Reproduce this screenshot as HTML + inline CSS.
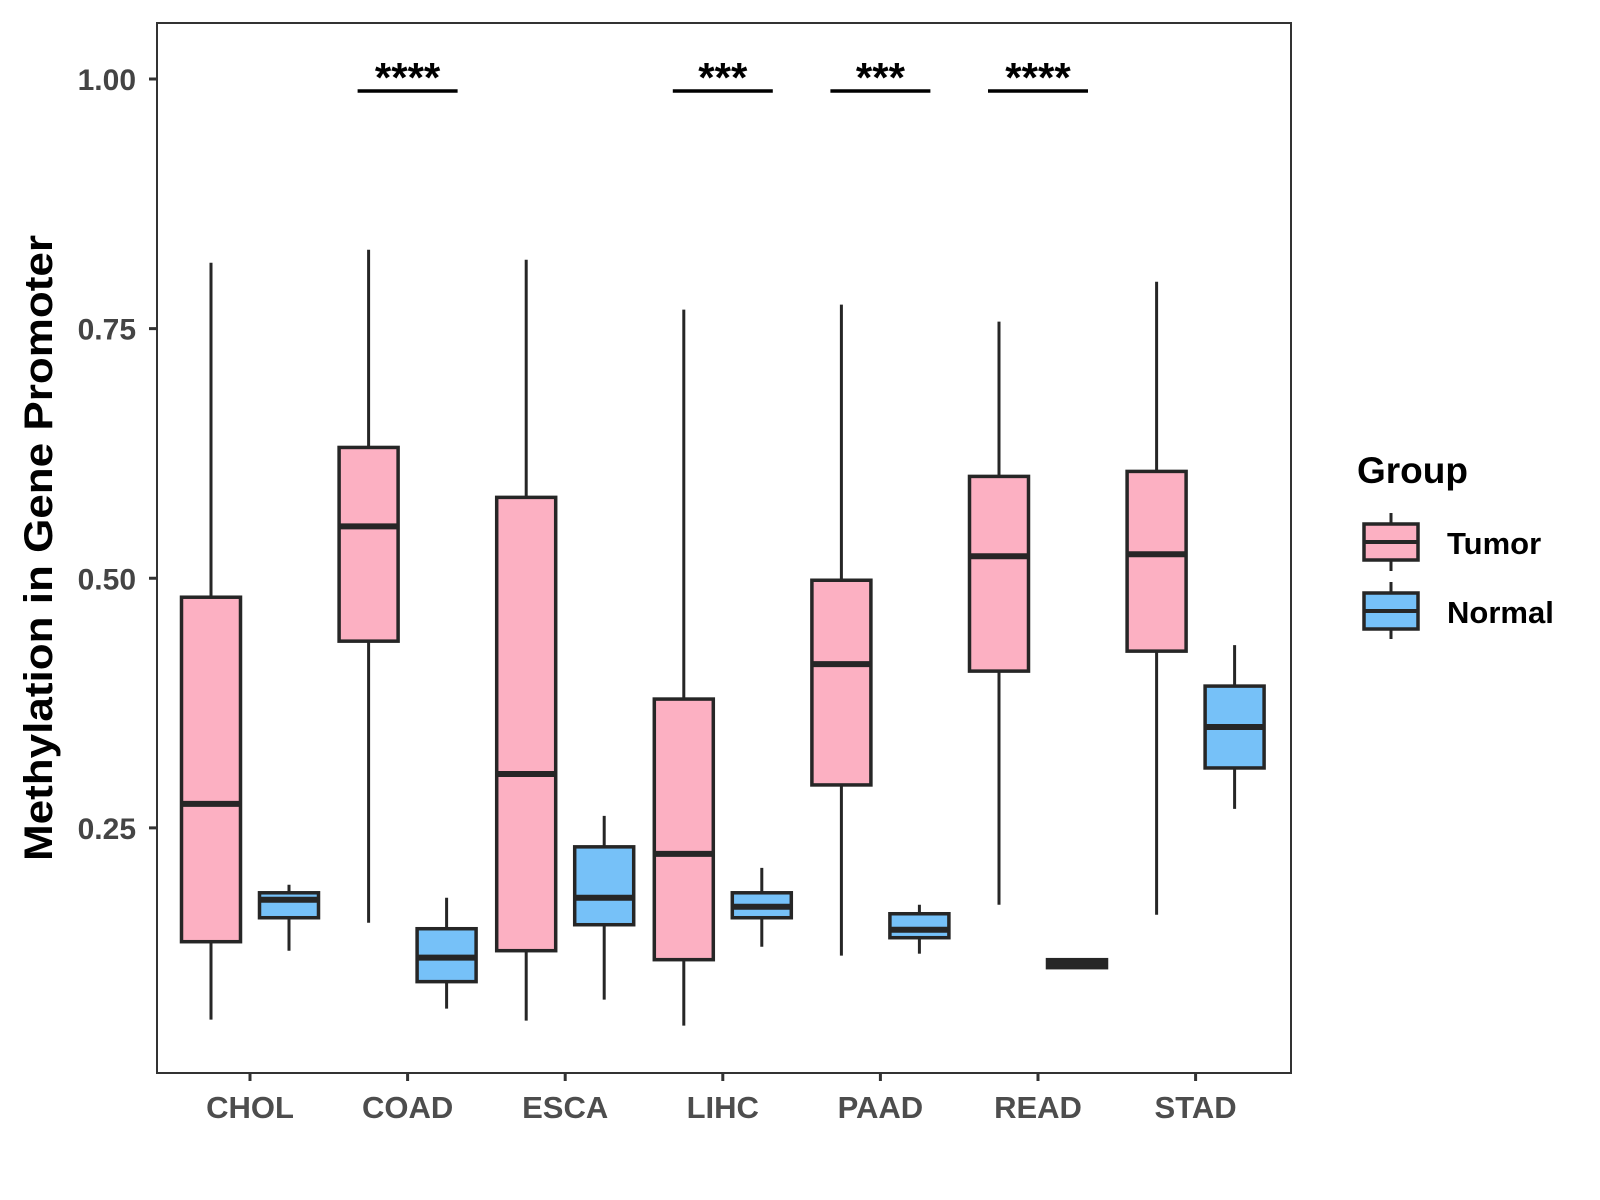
<!DOCTYPE html>
<html><head><meta charset="utf-8"><style>
html,body{margin:0;padding:0;background:#fff;}
svg{display:block;font-family:"Liberation Sans",Arial,sans-serif;}
</style></head><body>
<svg id="chart" width="1600" height="1200" viewBox="0 0 1600 1200" xmlns="http://www.w3.org/2000/svg">
<rect x="0" y="0" width="1600" height="1200" fill="#fff"/>
<g id="plot"></g>
<rect x="157" y="23" width="1134" height="1050" fill="none" stroke="#333" stroke-width="2"/>
<text transform="translate(52,548) rotate(-90)" text-anchor="middle" font-size="40" font-weight="bold" fill="#000" textLength="626" lengthAdjust="spacingAndGlyphs">Methylation in Gene Promoter</text>
<g>
<text x="1357" y="483" font-size="37" font-weight="bold" fill="#000">Group</text>
<g>
<line x1="1391" y1="513" x2="1391" y2="571" stroke="#262626" stroke-width="3"/>
<rect x="1364" y="524" width="54" height="36" fill="#FCB0C2" stroke="#262626" stroke-width="3.5"/>
<line x1="1364" y1="542" x2="1418" y2="542" stroke="#262626" stroke-width="4"/>
<text x="1447" y="554" font-size="31" font-weight="bold" fill="#000">Tumor</text>
</g>
<g>
<line x1="1391" y1="582" x2="1391" y2="639" stroke="#262626" stroke-width="3"/>
<rect x="1364" y="593" width="54" height="36" fill="#76C1F8" stroke="#262626" stroke-width="3.5"/>
<line x1="1364" y1="611" x2="1418" y2="611" stroke="#262626" stroke-width="4"/>
<text x="1447" y="623" font-size="31" font-weight="bold" fill="#000">Normal</text>
</g>
</g>
</svg>
<script>
const categories = ["CHOL","COAD","ESCA","LIHC","PAAD","READ","STAD"];
// [lower whisker, Q1, median, Q3, upper whisker]
const tumorStats = [
  [0.058,0.136,0.274,0.481,0.816],
  [0.155,0.437,0.552,0.631,0.829],
  [0.057,0.127,0.304,0.581,0.819],
  [0.052,0.118,0.224,0.379,0.769],
  [0.122,0.293,0.414,0.498,0.774],
  [0.173,0.407,0.522,0.602,0.757],
  [0.163,0.427,0.524,0.607,0.797]
];
const normalStats = [
  [0.127,0.160,0.178,0.185,0.193],
  [0.069,0.096,0.120,0.149,0.180],
  [0.078,0.153,0.180,0.231,0.262],
  [0.131,0.160,0.171,0.185,0.210],
  [0.124,0.140,0.148,0.164,0.173],
  [0.110,0.110,0.114,0.118,0.118],
  [0.269,0.310,0.351,0.392,0.433]
];
const yTicks = [0.25,0.50,0.75,1.00];
const yTickLabels = ["0.25","0.50","0.75","1.00"];
const sigCategories = ["COAD","LIHC","PAAD","READ"];
const sigLabels = ["****","***","***","****"];
const sigLevel = 0.988;

const NS = "http://www.w3.org/2000/svg";
const svg = document.getElementById("chart");
const plot = document.getElementById("plot");
function yScale(v){ return 1077.5 - v*998.5; }
function xScale(i){ return 250 + 157.6*i; }
const boxW = 59, offset = 39;
function mk(tag, attrs, parent){
  const el = document.createElementNS(NS, tag);
  for (const k in attrs) el.setAttribute(k, attrs[k]);
  (parent||plot).appendChild(el);
  return el;
}
function drawBox(s, cx, fill, name){
  const g = mk("g", {});
  
  
  mk("line",{x1:cx,x2:cx,y1:yScale(s[4]),y2:yScale(s[0]),stroke:"#262626","stroke-width":3},g);
  const top = yScale(s[3]), bot = yScale(s[1]);
  mk("rect",{x:cx-boxW/2,y:top,width:boxW,height:Math.max(bot-top,1),fill:fill,stroke:"#262626","stroke-width":3.5},g);
  mk("line",{x1:cx-boxW/2,x2:cx+boxW/2,y1:yScale(s[2]),y2:yScale(s[2]),stroke:"#262626","stroke-width":6},g);
}
categories.forEach((c,i)=>{
  const cx = xScale(i);
  drawBox(tumorStats[i], cx-offset, "#FCB0C2", "box-tumor-"+c.toLowerCase());
  drawBox(normalStats[i], cx+offset, "#76C1F8", "box-normal-"+c.toLowerCase());
  const t = mk("line",{x1:cx,x2:cx,y1:1073,y2:1081,stroke:"#333","stroke-width":3},svg);
  
  
  const lab = mk("text",{x:cx,y:1118,"text-anchor":"middle","font-size":31,"font-weight":"bold",fill:"#4d4d4d"},svg);
  lab.textContent = c;
  
  
});
yTicks.forEach((v,i)=>{
  const y = yScale(v);
  const t = mk("line",{x1:149,x2:157,y1:y,y2:y,stroke:"#333","stroke-width":3},svg);
  
  
  const lab = mk("text",{x:136,y:y+11,"text-anchor":"end","font-size":30,"font-weight":"bold",fill:"#444"},svg);
  lab.textContent = yTickLabels[i];
  
  
});
sigCategories.forEach((c,i)=>{
  const cx = xScale(categories.indexOf(c));
  const y = yScale(sigLevel);
  const b = mk("line",{x1:cx-50,x2:cx+50,y1:y,y2:y,stroke:"#000","stroke-width":3.5},svg);
  
  
  const t = mk("text",{x:cx,y:y+1,"text-anchor":"middle","font-size":42,"font-weight":"bold",fill:"#000"},svg);
  t.textContent = sigLabels[i];
  
  
});
</script>
</body></html>
